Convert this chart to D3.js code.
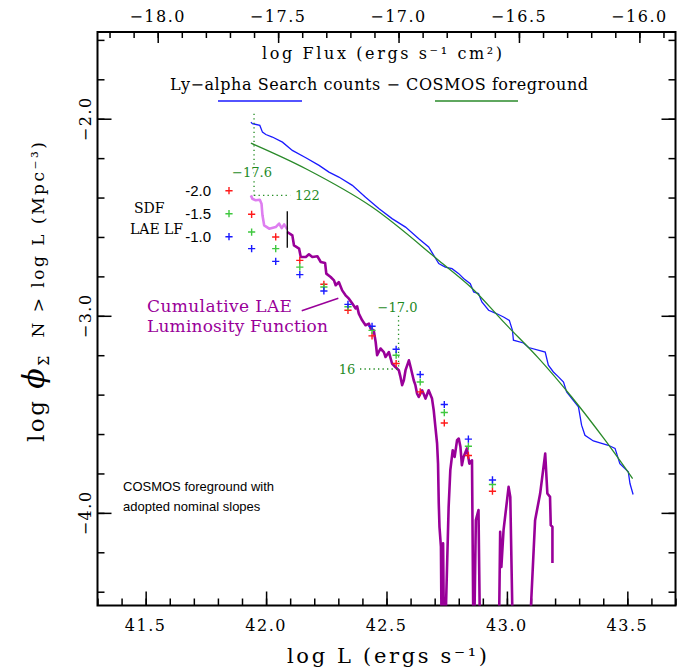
<!DOCTYPE html>
<html lang="en">
<head>
<meta charset="UTF-8">
<title>Cumulative LAE Luminosity Function</title>
<script src="https://d3js.org/d3.v7.min.js"></script>
<style>
  body { margin: 0; background: #fff; }
  svg { display: block; font-family: "DejaVu Serif", serif; }
  .sans { font-family: "Liberation Sans", Arial, sans-serif; }
</style>
</head>
<body>
<svg id="chart"></svg>
<script>
// --- data (log L, log phi) ---
const searchLogL = [41.937, 41.943, 41.974, 41.985, 41.999, 42.026, 42.068, 42.109, 42.165, 42.220, 42.261, 42.302, 42.358, 42.413, 42.468, 42.523, 42.579, 42.634, 42.675, 42.717, 42.744, 42.772, 42.800, 42.820, 42.848, 42.862, 42.882, 42.896, 42.924, 42.952, 42.986, 43.010, 43.023, 43.027, 43.069, 43.090, 43.159, 43.172, 43.193, 43.214, 43.235, 43.248, 43.297, 43.310, 43.324, 43.359, 43.421, 43.449, 43.469, 43.504, 43.511, 43.524];
const searchLogPhi = [-2.017, -2.025, -2.034, -2.068, -2.080, -2.093, -2.119, -2.161, -2.198, -2.237, -2.271, -2.296, -2.338, -2.398, -2.456, -2.507, -2.550, -2.609, -2.651, -2.735, -2.753, -2.761, -2.786, -2.811, -2.837, -2.879, -2.887, -2.930, -2.972, -2.986, -3.006, -3.023, -3.074, -3.124, -3.138, -3.161, -3.184, -3.251, -3.285, -3.310, -3.336, -3.386, -3.462, -3.555, -3.606, -3.635, -3.657, -3.673, -3.750, -3.792, -3.851, -3.907];

const cosmosLogL = [41.937, 42.165, 42.440, 42.717, 42.855, 42.993, 43.131, 43.269, 43.407, 43.522];
const cosmosLogPhi = [-2.124, -2.254, -2.448, -2.719, -2.860, -3.040, -3.215, -3.412, -3.630, -3.826];

// faint (incomplete) part of the LAE cumulative LF
const laeFaintLogL = [41.937, 41.943, 41.957, 41.974, 41.981, 41.985, 41.992, 42.013, 42.040, 42.054, 42.065, 42.075, 42.082, 42.088];
const laeFaintLogPhi = [-2.389, -2.406, -2.414, -2.411, -2.431, -2.490, -2.541, -2.558, -2.550, -2.532, -2.555, -2.536, -2.550, -2.561];

// values below the frame (-4.8) mean the count dropped to zero
const laeLogL = [42.088, 42.109, 42.116, 42.137, 42.144, 42.165, 42.178, 42.192, 42.213, 42.227, 42.245, 42.250, 42.268, 42.282, 42.289, 42.302, 42.316, 42.330, 42.344, 42.358, 42.372, 42.378, 42.385, 42.399, 42.413, 42.427, 42.434, 42.447, 42.455, 42.461, 42.475, 42.489, 42.496, 42.510, 42.523, 42.537, 42.551, 42.558, 42.565, 42.572, 42.579, 42.593, 42.600, 42.613, 42.620, 42.627, 42.634, 42.648, 42.662, 42.675, 42.689, 42.696, 42.703, 42.710, 42.714, 42.717, 42.720, 42.726, 42.730, 42.735, 42.740, 42.758, 42.765, 42.775, 42.783, 42.793, 42.800, 42.807, 42.813, 42.820, 42.834, 42.844, 42.855, 42.862, 42.871, 42.882, 42.890, 42.965, 42.972, 42.977, 42.986, 43.007, 43.014, 43.027, 43.087, 43.117, 43.138, 43.159, 43.168, 43.179, 43.182, 43.189, 43.189];
const laeLogPhi = [-2.575, -2.592, -2.643, -2.659, -2.702, -2.702, -2.688, -2.702, -2.698, -2.727, -2.732, -2.786, -2.803, -2.820, -2.845, -2.829, -2.871, -2.896, -2.913, -2.938, -2.963, -2.952, -2.989, -3.023, -3.048, -3.040, -3.065, -3.074, -3.133, -3.200, -3.166, -3.184, -3.209, -3.184, -3.242, -3.260, -3.276, -3.310, -3.352, -3.327, -3.276, -3.226, -3.260, -3.327, -3.352, -3.395, -3.412, -3.378, -3.420, -3.378, -3.420, -3.479, -3.564, -3.648, -3.750, -3.952, -4.071, -4.172, -4.8, -4.155, -4.8, -3.970, -3.783, -3.682, -3.716, -3.631, -3.623, -3.665, -3.758, -3.716, -3.673, -3.750, -3.733, -4.8, -4.037, -3.986, -4.8, -4.8, -4.096, -4.274, -4.088, -3.868, -3.919, -4.8, -4.8, -4.037, -3.902, -3.699, -3.902, -3.919, -4.062, -4.071, -4.254];

// SDF LAE LF, COSMOS foreground with nominal slopes
const sdfLogL = [41.94, 42.04, 42.14, 42.24, 42.34, 42.44, 42.54, 42.64, 42.74, 42.84, 42.94];
const slopeM20 = [-2.485, -2.600, -2.719, -2.840, -2.972, -3.102, -3.242, -3.386, -3.544, -3.709, -3.890];
const slopeM15 = [-2.575, -2.659, -2.753, -2.854, -2.954, -3.074, -3.200, -3.336, -3.491, -3.662, -3.856];
const slopeM10 = [-2.659, -2.724, -2.791, -2.874, -2.942, -3.053, -3.170, -3.298, -3.450, -3.626, -3.833];
const slopeLabels = ["-2.0", "-1.5", "-1.0"];

// flux limits marked on the LF
const cutFlux = [-17.6, -17.0];
const cutCounts = ["122", "16"];
const cutLogPhi = [-2.389, -3.27];
const cutTop = [-1.975, -3.0];
const sdfLimitLogL = 42.088;

const xTickLabels = [41.5, 42.0, 42.5, 43.0, 43.5];
const fluxTickLabels = [-18.0, -17.5, -17.0, -16.5, -16.0];
const yTickLabels = [-2.0, -3.0, -4.0];

const fluxOffset = 59.55; // log L - log Flux

const W = 690, H = 671;
const x = d3.scaleLinear().domain([41.3, 43.7]).range([97.5, 675.5]);
const y = d3.scaleLinear().domain([-4.47, -1.56]).range([605.5, 32]);
const xTop = d3.scaleLinear().domain(x.domain().map(v => v - fluxOffset)).range(x.range());

const fmt = d3.format(".1f");
const red = "#ff1a1a", green = "#3fc83f", blue = "#1a1aff";
const annGreen = "#1f8a1f", purple = "#990099";

const svg = d3.select("#chart").attr("width", W).attr("height", H);

svg.append("defs").append("clipPath").attr("id", "plotClip")
  .append("rect")
  .attr("x", x.range()[0]).attr("y", y.range()[1])
  .attr("width", x.range()[1] - x.range()[0])
  .attr("height", y.range()[0] - y.range()[1]);

// ticks (all pointing inward)
function tickSet(axisFn, scale, values, size, transform) {
  svg.append("g")
    .attr("transform", transform)
    .call(axisFn(scale).tickValues(values).tickSize(-size).tickFormat(""))
    .call(g => g.select(".domain").remove())
    .call(g => g.selectAll("line").attr("stroke", "#000").attr("stroke-width", 1.5));
}
const xMinor = d3.range(413, 438).map(v => v / 10);
const fluxMinor = d3.range(-182, -158).map(v => v / 10);
const yMinor = d3.range(-22, -7).map(v => v / 5);

tickSet(d3.axisBottom, x, xMinor, 7, `translate(0,${y.range()[0]})`);
tickSet(d3.axisBottom, x, xTickLabels, 14, `translate(0,${y.range()[0]})`);
tickSet(d3.axisTop, xTop, fluxMinor, 6, `translate(0,${y.range()[1]})`);
tickSet(d3.axisTop, xTop, fluxTickLabels, 11, `translate(0,${y.range()[1]})`);
tickSet(d3.axisLeft, y, yMinor, 7, `translate(${x.range()[0]},0)`);
tickSet(d3.axisLeft, y, yTickLabels, 14, `translate(${x.range()[0]},0)`);
tickSet(d3.axisRight, y, yMinor, 7, `translate(${x.range()[1]},0)`);
tickSet(d3.axisRight, y, yTickLabels, 14, `translate(${x.range()[1]},0)`);

// frame
svg.append("rect")
  .attr("x", x.range()[0]).attr("y", y.range()[1])
  .attr("width", x.range()[1] - x.range()[0])
  .attr("height", y.range()[0] - y.range()[1])
  .attr("fill", "none").attr("stroke", "#000").attr("stroke-width", 2);

// tick labels
svg.append("g").selectAll("text").data(xTickLabels).join("text")
  .attr("x", d => x(d)).attr("y", 631)
  .attr("text-anchor", "middle").attr("font-size", 16).attr("letter-spacing", 1.5)
  .text(d => fmt(d));
svg.append("g").selectAll("text").data(fluxTickLabels).join("text")
  .attr("x", d => xTop(d)).attr("y", 22)
  .attr("text-anchor", "middle").attr("font-size", 16).attr("letter-spacing", 1.5)
  .text(d => fmt(d));
svg.append("g").selectAll("text").data(yTickLabels).join("text")
  .attr("transform", d => `translate(91,${y(d)}) rotate(-90)`)
  .attr("text-anchor", "middle").attr("font-size", 16).attr("letter-spacing", 1.5)
  .text(d => fmt(d));

// axis titles
svg.append("text")
  .attr("x", 387).attr("y", 663).attr("text-anchor", "middle")
  .attr("font-size", 21).attr("textLength", 200).attr("lengthAdjust", "spacing")
  .text("log L (ergs s\u207B\u00B9)");

const yTitle = svg.append("text")
  .attr("transform", "translate(44,292) rotate(-90)")
  .attr("text-anchor", "middle")
  .attr("textLength", 300).attr("lengthAdjust", "spacing");
yTitle.append("tspan").attr("font-size", 23).text("log ");
yTitle.append("tspan").attr("font-size", 30).attr("font-style", "italic").text("\u03D5");
yTitle.append("tspan").attr("font-size", 14).attr("dy", 5).text("\u03A3");
yTitle.append("tspan").attr("font-size", 17).attr("dy", -5).text("\u00A0\u00A0N > log L (Mpc\u207B\u00B3)");

svg.append("text")
  .attr("x", 382).attr("y", 59).attr("text-anchor", "middle")
  .attr("font-size", 16).attr("textLength", 240).attr("lengthAdjust", "spacing")
  .text("log Flux (ergs s\u207B\u00B9 cm\u00B2)");

svg.append("text")
  .attr("x", 379).attr("y", 90).attr("text-anchor", "middle")
  .attr("font-size", 16).attr("textLength", 418).attr("lengthAdjust", "spacing")
  .text("Ly\u2212alpha Search counts  \u2212 COSMOS foreground");
svg.append("line").attr("x1", 218).attr("x2", 302).attr("y1", 101).attr("y2", 101)
  .attr("stroke", blue).attr("stroke-width", 1.5);
svg.append("line").attr("x1", 435).attr("x2", 518).attr("y1", 101).attr("y2", 101)
  .attr("stroke", "#2a8a2a").attr("stroke-width", 1.5);

// data lines
const plot = svg.append("g").attr("clip-path", "url(#plotClip)");
const line = d3.line().x(d => x(d[0])).y(d => y(d[1]));

plot.append("path")
  .attr("d", line(d3.zip(searchLogL, searchLogPhi)))
  .attr("fill", "none").attr("stroke", blue).attr("stroke-width", 1.3);

plot.append("path")
  .attr("d", line.curve(d3.curveCatmullRom)(d3.zip(cosmosLogL, cosmosLogPhi)))
  .attr("fill", "none").attr("stroke", "#2a8a2a").attr("stroke-width", 1.3);
line.curve(d3.curveLinear);

// flux-limit annotations (dotted)
const dotted = { stroke: annGreen, "stroke-width": 1.3, "stroke-dasharray": "1.3,3.2" };
function dottedLine(x1, y1, x2, y2) {
  const l = svg.append("line").attr("x1", x1).attr("y1", y1).attr("x2", x2).attr("y2", y2);
  Object.entries(dotted).forEach(([k, v]) => l.attr(k, v));
}
const cutL = cutFlux.map(f => f + fluxOffset);
dottedLine(x(cutL[0]), y(cutTop[0]), x(cutL[0]), y(cutLogPhi[0]));
dottedLine(x(cutL[0]), y(cutLogPhi[0]), x(cutL[0] + 0.15), y(cutLogPhi[0]));
dottedLine(x(cutL[1]), y(cutTop[1]), x(cutL[1]), y(cutLogPhi[1]));
dottedLine(x(cutL[1] - 0.16), y(cutLogPhi[1]), x(cutL[1]), y(cutLogPhi[1]));

const annText = (tx, ty, anchor, str) => svg.append("text")
  .attr("x", tx).attr("y", ty).attr("text-anchor", anchor)
  .attr("font-size", 13).attr("fill", annGreen)
  .attr("stroke", "#fff").attr("stroke-width", 3).attr("paint-order", "stroke")
  .text(str);
annText(x(cutL[0]) - 2, y(cutLogPhi[0]) - 18, "middle", "\u2212" + Math.abs(cutFlux[0]).toFixed(1));
annText(x(cutL[0] + 0.17), y(cutLogPhi[0]) + 4.5, "start", cutCounts[0]);
annText(x(cutL[1]) - 1, y(cutTop[1]) - 4, "middle", "\u2212" + Math.abs(cutFlux[1]).toFixed(1));
annText(x(cutL[1] - 0.18), y(cutLogPhi[1]) + 4.5, "end", cutCounts[1]);

// LAE cumulative LF
plot.append("path")
  .attr("d", line(d3.zip(laeFaintLogL, laeFaintLogPhi)))
  .attr("fill", "none").attr("stroke", "#de7ef0").attr("stroke-width", 2.6)
  .attr("stroke-linejoin", "round");
plot.append("path")
  .attr("d", line(d3.zip(laeLogL, laeLogPhi)))
  .attr("fill", "none").attr("stroke", purple).attr("stroke-width", 2.6)
  .attr("stroke-linejoin", "round");

// SDF completeness limit marker
svg.append("line")
  .attr("x1", x(sdfLimitLogL)).attr("x2", x(sdfLimitLogL))
  .attr("y1", y(-2.47)).attr("y2", y(-2.655))
  .attr("stroke", "#000").attr("stroke-width", 1.3);

// SDF LF points
const plus = "M-3.6,0H3.6M0,-3.6V3.6";
const series = [[slopeM20, red], [slopeM15, green], [slopeM10, blue]];
series.forEach(([vals, col]) => {
  svg.append("g").selectAll("path").data(d3.zip(sdfLogL, vals)).join("path")
    .attr("transform", d => `translate(${x(d[0])},${y(d[1])})`)
    .attr("d", plus).attr("stroke", col).attr("stroke-width", 1.4).attr("fill", "none");
});

// SDF legend
svg.append("text").attr("x", 134).attr("y", 213).attr("font-size", 14).text("SDF");
svg.append("text").attr("x", 130).attr("y", 234).attr("font-size", 14).text("LAE LF");
slopeLabels.forEach((lab, i) => {
  const ly = 190.7 + i * 23;
  svg.append("text").attr("class", "sans").attr("x", 211).attr("y", ly + 5)
    .attr("text-anchor", "end").attr("font-size", 15).text(lab);
  svg.append("path").attr("transform", `translate(229,${ly})`)
    .attr("d", plus).attr("stroke", series[i][1]).attr("stroke-width", 1.4);
});

// LF label with pointer
svg.append("text").attr("x", 147).attr("y", 312).attr("font-size", 17).attr("fill", purple)
  .attr("textLength", 145).attr("lengthAdjust", "spacing").text("Cumulative LAE");
svg.append("text").attr("x", 147).attr("y", 332).attr("font-size", 17).attr("fill", purple)
  .attr("textLength", 181).attr("lengthAdjust", "spacing").text("Luminosity Function");
svg.append("line")
  .attr("x1", x(42.148)).attr("y1", y(-2.974)).attr("x2", x(42.30)).attr("y2", y(-2.911))
  .attr("stroke", purple).attr("stroke-width", 1.5);

// note
svg.append("text").attr("class", "sans").attr("x", 123).attr("y", 491)
  .attr("font-size", 13).text("COSMOS foreground with");
svg.append("text").attr("class", "sans").attr("x", 123).attr("y", 511)
  .attr("font-size", 13).text("adopted nominal slopes");
</script>
</body>
</html>
